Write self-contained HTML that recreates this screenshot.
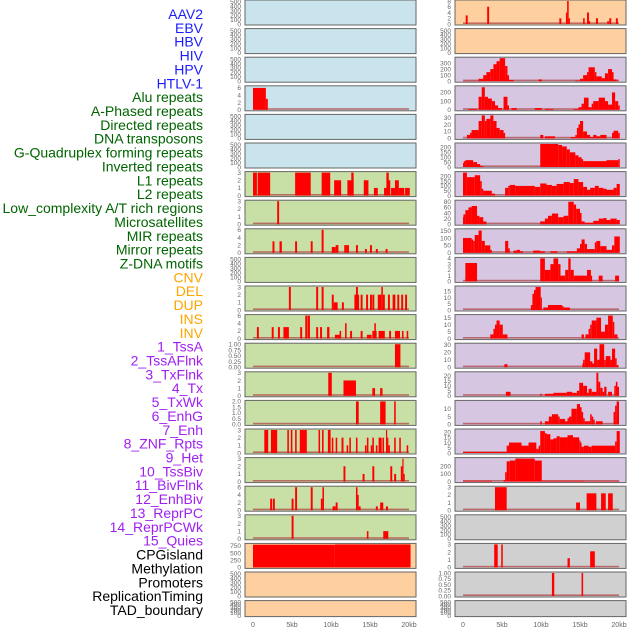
<!DOCTYPE html>
<html><head><meta charset="utf-8"><style>
html,body{margin:0;padding:0;background:#fff;}
svg{display:block;font-family:"Liberation Sans",sans-serif;}
</style></head><body>
<svg id="chart" width="630" height="630" viewBox="0 0 630 630" xmlns="http://www.w3.org/2000/svg"></svg>
<script>
// ---------- data ----------
const trackLabels = ["AAV2","EBV","HBV","HIV","HPV","HTLV-1","Alu repeats","A-Phased repeats","Directed repeats","DNA transposons","G-Quadruplex forming repeats","Inverted repeats","L1 repeats","L2 repeats","Low_complexity A/T rich regions","Microsatellites","MIR repeats","Mirror repeats","Z-DNA motifs","CNV","DEL","DUP","INS","INV","1_TssA","2_TssAFlnk","3_TxFlnk","4_Tx","5_TxWk","6_EnhG","7_Enh","8_ZNF_Rpts","9_Het","10_TssBiv","11_BivFlnk","12_EnhBiv","13_ReprPC","14_ReprPCWk","15_Quies","CPGisland","Methylation","Promoters","ReplicationTiming","TAD_boundary"];
const labelColors = ["#1c1cff","#1c1cff","#1c1cff","#1c1cff","#1c1cff","#1c1cff","#006400","#006400","#006400","#006400","#006400","#006400","#006400","#006400","#006400","#006400","#006400","#006400","#006400","#ffa500","#ffa500","#ffa500","#ffa500","#ffa500","#a020f0","#a020f0","#a020f0","#a020f0","#a020f0","#a020f0","#a020f0","#a020f0","#a020f0","#a020f0","#a020f0","#a020f0","#a020f0","#a020f0","#a020f0","#000","#000","#000","#000","#000"];
const xTickKb = [0,5,10,15,20];
const xTickLabels = ["0","5kb","10kb","15kb","20kb"];
const emptyTicks = ["0","100","200","300","400","500"];

// left column segments [startKb, endKb, value]
const L03 = [[0,1.65,6],[1.65,1.9,3]];
const L06 = [[0,0.5,3],[0.6,2.2,3],[5.4,7.4,3],[8.8,9.9,3],[10.4,11.3,2],[12.1,12.9,2],[12.6,12.9,3],[14.2,14.8,2],[15.5,16.0,1],[16.8,17.2,1],[17.1,17.4,3],[17.3,17.6,2],[17.7,18.2,1],[18.2,18.7,2],[18.7,19.4,1],[19.5,20.1,1]];
const L07 = [[3.1,3.35,3]];
const L08 = [[2.5,2.75,3],[3.4,3.7,3],[5.4,5.65,3],[7.4,7.65,3],[8.8,9.05,6],[10.1,10.6,1.5],[10.6,10.95,2],[11.7,12.0,2],[12.0,12.3,2],[13.2,13.45,2],[14.35,14.6,1],[15.0,15.25,2],[15.75,16.0,1],[17.0,17.25,1]];
const L10 = [[4.6,4.85,3],[8.1,8.35,3],[8.8,9.05,3],[10.1,10.35,2],[10.35,10.85,1],[11.4,11.65,1],[13.0,13.6,2],[13.2,13.45,3],[13.8,14.05,2],[14.5,14.75,2],[15.0,15.25,2],[15.3,15.55,2],[16.0,16.25,2],[16.2,16.45,2],[16.45,16.65,3],[16.65,16.9,2],[17.3,17.55,2],[17.9,18.25,2],[18.5,18.75,2],[19.0,19.25,2],[19.5,19.75,2]];
const L11 = [[0.5,0.75,3],[2.4,2.65,3],[3.2,3.45,3],[3.9,4.6,3],[6.05,6.3,3],[6.7,7.0,6],[7.05,7.3,6],[8.1,8.35,3],[8.6,8.85,3],[9.5,9.8,3],[10.5,11.15,1],[11.1,11.3,2],[11.8,12.0,4],[12.45,12.7,2],[13.8,14.05,2],[14.6,15.2,1],[15.3,15.85,2],[15.55,15.75,4],[16.1,16.9,2],[17.45,17.7,2],[18.2,18.85,2],[19.1,19.3,2],[19.7,19.9,2]];
const L12 = [[18.2,18.9,1]];
const L13 = [[9.65,10.1,3],[11.6,13.2,2],[15.3,15.65,1],[16.3,16.6,1]];
const L14 = [[13.2,13.55,2],[16.3,17.0,2],[18.1,18.3,2]];
const L15 = [[1.45,1.95,3],[2.3,3.1,3],[4.4,4.6,3],[4.85,5.05,3],[5.4,5.6,3],[6.0,6.9,3],[8.4,8.6,3],[8.85,9.05,3],[9.6,9.95,3],[10.1,10.3,2],[10.6,10.8,2],[11.35,11.6,2],[12.0,12.2,1],[12.35,12.55,2],[13.2,13.4,2],[14.35,14.55,1],[14.6,14.8,2],[15.1,15.3,1],[15.3,15.5,2],[15.75,15.95,1],[16.1,16.5,2],[16.6,16.8,2],[17.05,17.2,3],[17.2,17.35,2],[17.35,17.55,1],[18.1,18.3,2],[18.75,18.95,2],[19.7,19.9,1]];
const L16 = [[11.6,11.85,2],[14.05,14.3,1],[15.3,15.55,2],[17.6,17.85,2],[18.1,18.35,1],[18.95,19.15,2],[19.15,19.3,3],[19.3,19.45,1]];
const L17 = [[2.2,2.45,3],[2.55,2.8,3],[4.95,5.2,3],[5.4,5.65,6],[7.4,7.65,6],[8.7,8.9,3],[8.9,9.1,6],[10.2,10.6,1],[10.6,10.85,2],[13.2,13.4,6],[13.4,13.55,4],[13.55,13.8,1],[15.75,16.0,1],[16.3,16.7,2],[17.05,17.3,1]];
const L18 = [[4.95,5.2,3],[14.6,14.8,1],[16.7,17.35,1]];
const L19 = [[0,10.5,790],[10.5,20.2,800]];

// right column segments
const R00 = [[0.35,0.6,3],[3.1,3.35,6],[12.35,12.6,2],[13.2,13.35,4],[13.35,13.55,8],[13.55,13.7,2],[15.4,15.6,2],[15.9,16.15,4],[16.15,16.3,1],[17.05,17.3,2],[18.5,18.7,1],[18.75,19.0,2],[19.6,19.85,2]];
const R02 = [[0,2.0,5],[2.0,2.6,40],[2.6,3.0,100],[3.0,3.5,150],[3.5,3.9,200],[3.9,4.3,280],[4.3,4.7,330],[4.7,5.4,380],[5.4,5.7,250],[5.7,5.9,100],[5.9,6.5,20],[9.7,10.1,30],[14.4,15.0,10],[15.0,15.4,40],[15.4,15.9,100],[15.9,16.1,150],[16.1,16.9,230],[16.9,17.1,150],[17.1,17.8,80],[17.8,18.2,50],[18.2,18.6,130],[18.6,19.1,200],[19.1,19.3,150],[19.3,19.7,30],[19.7,19.9,10]];
const R03 = [[0.7,1.8,10],[2.0,2.4,150],[2.4,2.8,260],[2.8,3.2,150],[3.2,3.7,130],[3.7,4.1,100],[4.1,4.5,50],[4.5,5.0,20],[5.2,5.7,150],[5.7,5.9,50],[6.2,6.9,20],[9.2,10.1,20],[10.5,11.6,10],[14.2,14.8,10],[14.8,15.2,30],[15.2,15.5,70],[15.5,16.1,140],[16.1,16.5,30],[16.5,16.7,70],[16.7,17.4,100],[17.4,18.2,140],[18.2,18.6,100],[18.6,19.1,60],[19.1,19.5,200],[19.5,19.9,100],[19.9,20.1,50]];
const R04 = [[0.5,0.9,5],[0.9,1.1,8],[1.1,2.0,12],[2.0,2.4,25],[2.4,2.8,33],[2.8,3.0,25],[3.0,3.5,28],[3.5,3.9,33],[3.9,4.3,25],[4.3,4.7,15],[4.7,5.2,12],[5.2,5.4,8],[9.9,10.3,5],[10.5,11.8,3],[13.8,14.4,2],[14.4,14.6,5],[14.6,14.8,15],[14.8,15.0,20],[15.0,15.4,25],[15.4,15.9,10],[15.9,16.3,5],[16.3,16.7,2],[16.7,17.1,5],[17.1,17.6,3],[17.6,18.4,5],[19.1,19.3,8],[19.3,19.9,11],[19.9,20.1,8]];
const R05 = [[0,0.1,40],[0.1,0.3,60],[0.3,1.3,70],[1.3,1.8,50],[1.8,2.2,30],[2.2,2.6,10],[9.9,12.2,235],[12.2,12.7,225],[12.7,13.3,210],[13.3,13.7,180],[13.7,14.4,150],[14.4,14.8,120],[14.8,15.2,100],[15.2,15.4,80],[15.4,18.4,60],[18.4,19.9,70],[19.9,20.1,80]];
const R06 = [[0,0.5,237],[0.5,1.5,190],[1.5,2.2,210],[2.2,2.4,150],[2.4,2.6,70],[2.6,3.7,50],[3.7,4.1,20],[5.4,5.8,80],[5.8,6.0,100],[6.0,6.7,110],[6.7,9.2,100],[9.2,9.9,90],[9.9,10.7,125],[10.7,11.4,110],[11.4,12.0,100],[12.0,12.9,120],[12.9,13.7,140],[13.7,14.2,130],[14.2,14.8,170],[14.8,15.4,140],[15.4,15.9,90],[15.9,16.3,60],[16.3,16.9,80],[16.9,17.4,100],[17.4,18.0,80],[18.0,18.4,70],[18.4,19.3,60],[19.3,19.7,80],[19.7,20.1,120]];
const R07 = [[0,0.05,25],[0.05,0.3,35],[0.3,0.7,50],[0.7,1.1,60],[1.1,1.8,65],[1.8,2.1,30],[2.1,2.6,25],[2.6,3.0,10],[9.9,10.5,10],[10.5,10.9,20],[10.9,11.4,30],[11.4,12.2,38],[12.2,12.9,25],[12.9,13.5,30],[13.5,14.2,80],[14.2,14.5,70],[14.5,15.0,55],[15.0,15.2,40],[15.2,15.6,10],[15.6,16.7,5],[16.7,17.4,12],[17.4,18.0,20],[18.0,18.4,22],[18.4,18.9,15],[18.9,19.7,20],[19.7,20.1,15]];
const R08 = [[0,1.1,100],[1.1,1.3,90],[1.3,1.5,80],[1.5,2.0,120],[2.0,2.4,150],[2.4,2.8,80],[2.8,3.5,50],[3.5,3.7,20],[5.4,5.8,80],[5.8,6.0,30],[6.5,6.9,15],[6.9,7.3,20],[7.3,7.7,10],[9.0,9.9,15],[9.9,10.5,10],[11.2,12.1,10],[13.3,14.6,10],[14.6,15.0,30],[15.0,15.2,60],[15.2,15.6,90],[15.6,15.9,60],[15.9,16.9,25],[16.9,17.1,70],[17.1,17.6,80],[17.6,18.4,45],[18.4,19.1,20],[19.1,19.4,50],[19.4,20.1,110]];
const R09 = [[0.3,1.8,3.2],[9.9,10.5,4],[10.5,11.2,2],[11.2,11.6,3],[11.6,12.2,4],[12.2,12.5,3],[12.5,13.1,1],[13.1,13.5,2],[13.5,13.8,4],[13.8,14.2,2],[14.2,15.9,1],[15.9,16.4,2],[16.4,16.5,1],[17.4,17.9,1],[19.5,20.0,1]];
const R10 = [[8.7,8.9,4],[8.9,9.1,13],[9.1,9.3,16],[9.3,9.96,18.4],[9.96,10.1,10],[10.3,10.9,2],[10.9,12.7,4],[12.7,12.9,3],[12.9,13.7,2]];
const R11 = [[3.5,3.9,3],[3.9,4.1,7],[4.1,4.3,10],[4.3,4.7,13],[4.7,5.1,10],[5.1,5.7,3],[15.2,15.5,3],[15.7,16.1,3],[16.1,16.3,7],[16.3,16.5,10],[16.5,17.1,13],[17.1,17.7,15],[17.7,18.2,5],[18.2,18.6,10],[18.6,19.2,16.5],[19.2,19.4,12],[19.4,19.8,3]];
const R12 = [[5.3,5.7,4],[15.3,15.4,5],[15.4,15.6,10],[15.6,16.3,20],[16.3,16.6,8],[16.6,16.8,5],[16.8,17.2,25],[17.2,17.5,10],[17.5,18.1,31],[18.1,18.3,10],[18.3,18.9,15],[18.9,19.1,10],[19.1,19.5,25],[19.5,19.7,12],[19.7,19.9,3]];
const R13 = [[5.5,6.1,4],[9.9,10.1,2],[10.5,11.6,2],[11.6,13.3,3],[13.3,14.0,4],[14.0,14.6,3],[14.6,14.9,5],[14.9,15.4,13],[15.4,15.9,10],[15.9,16.1,3],[16.1,16.5,7],[16.5,17.1,4],[17.1,17.35,23],[17.35,17.6,14],[17.6,17.9,8],[17.9,18.1,4],[18.1,18.4,9],[18.6,19.1,4],[19.4,19.6,10],[19.6,19.8,14],[19.8,20.0,9]];
const R14 = [[9.9,10.1,2],[10.5,11.0,2],[11.0,11.4,5],[11.4,12.2,6.5],[12.2,12.4,5],[12.4,13.1,3.5],[13.1,13.4,2],[13.4,13.6,4],[13.6,13.9,5],[13.9,14.6,10],[14.6,15.0,13],[15.0,15.2,11],[15.2,15.4,8],[15.4,15.6,4],[15.6,16.3,2],[16.3,16.5,6.5],[16.5,16.7,5],[16.7,16.9,3],[17.05,17.9,2],[19.3,19.5,8],[19.5,19.7,12],[19.7,20.0,14.7]];
const R15 = [[0,5.6,1],[5.6,5.9,7],[5.9,7.5,10],[7.5,8.4,7],[8.4,9.4,10],[9.4,9.7,4],[9.7,9.9,7],[9.9,10.5,21],[10.5,10.7,19],[10.7,11.2,18],[11.2,11.6,13],[11.6,12.0,14],[12.0,12.4,16],[12.4,13.4,15],[13.4,14.1,17],[14.1,14.9,15],[14.9,15.0,12],[15.0,15.2,10],[15.2,15.5,6],[15.5,16.1,7],[16.1,16.5,6],[16.5,19.5,7],[19.5,19.7,11],[19.7,20.1,21]];
const R16 = [[0,3.7,10],[5.2,5.4,20],[5.4,5.6,120],[5.6,6.0,260],[6.0,6.7,270],[6.7,9.2,295],[9.2,10.1,270],[10.1,15.6,10],[15.6,20.1,5]];
const R17 = [[4.1,5.6,3],[14.5,15.0,1],[15.85,17.1,2.2],[17.7,18.3,2.2],[18.6,19.2,2.2]];
const R19 = [[4.0,4.45,3],[4.9,5.1,3],[13.4,13.7,1.2],[16.3,16.9,2.1]];
const R20 = [[11.4,11.7,1],[15.2,15.4,1]];

const leftSeries = [[],[],[],L03,[],[],L06,L07,L08,[],L10,L11,L12,L13,L14,L15,L16,L17,L18,L19,[],[]];
const rightSeries = [R00,[],R02,R03,R04,R05,R06,R07,R08,R09,R10,R11,R12,R13,R14,R15,R16,R17,[],R19,R20,[]];
const leftMax = [520,520,520,6.3,520,520,3,3,6,520,3,6,1,3,2,3,3,6,3,800,520,520];
const rightMax = [8,520,380,265,33,235,237,82,155,4,18.4,16.5,31,23,14.7,22,295,3,520,3,1,520];
const leftTicks = [emptyTicks,emptyTicks,emptyTicks,["0","2","4","6"],emptyTicks,emptyTicks,["0","1","2","3"],["0","1","2","3"],["0","2","4","6"],emptyTicks,["0","1","2","3"],["0","2","4","6"],["0.00","0.25","0.50","0.75","1.00"],["0","1","2","3"],["0.0","0.5","1.0","1.5","2.0"],["0","1","2","3"],["0","1","2","3"],["0","2","4","6"],["0","1","2","3"],["0","250","500","750"],emptyTicks,emptyTicks];
const rightTicks = [["0","2","4","6","8"],emptyTicks,["0","100","200","300"],["0","100","200"],["0","10","20","30"],["0","50","100","150","200"],["0","50","100","150","200"],["0","20","40","60","80"],["0","50","100","150"],["0","1","2","3","4"],["0","5","10","15"],["0","5","10","15"],["0","10","20","30"],["0","5","10","15","20"],["0","5","10"],["0","5","10","15","20"],["0","100","200"],["0","1","2","3"],emptyTicks,["0","1","2","3"],["0.00","0.25","0.50","0.75","1.00"],emptyTicks];
const leftBg = ["#c9e4ec","#c9e4ec","#c9e4ec","#c9e4ec","#c9e4ec","#c9e4ec","#c8e0a6","#c8e0a6","#c8e0a6","#c8e0a6","#c8e0a6","#c8e0a6","#c8e0a6","#c8e0a6","#c8e0a6","#c8e0a6","#c8e0a6","#c8e0a6","#c8e0a6","#fed0a0","#fed0a0","#fed0a0"];
const rightBg = ["#fed0a0","#fed0a0","#d6c6e2","#d6c6e2","#d6c6e2","#d6c6e2","#d6c6e2","#d6c6e2","#d6c6e2","#d6c6e2","#d6c6e2","#d6c6e2","#d6c6e2","#d6c6e2","#d6c6e2","#d6c6e2","#d6c6e2","#d0d0d0","#d0d0d0","#d0d0d0","#d0d0d0","#d0d0d0"];

// ---------- drawing ----------
const NS = "http://www.w3.org/2000/svg";
const svg = document.getElementById("chart");
function mk(tag, attrs, parent) {
  const e = document.createElementNS(NS, tag);
  for (const k in attrs) e.setAttribute(k, attrs[k]);
  (parent || svg).appendChild(e);
  return e;
}
const ROW_PITCH = 28.6, PANEL_H = 25, PANEL_W = 171, KB = 7.8;
const cols = [{x:245, zero:253, series:leftSeries, max:leftMax, ticks:leftTicks, bg:leftBg, side:"left"},
              {x:455, zero:463, series:rightSeries, max:rightMax, ticks:rightTicks, bg:rightBg, side:"right"}];
function xScale(col, kb) { return col.zero + kb * KB; }

// labels
trackLabels.forEach((lab, i) => {
  const t = mk("text", {x:203, y:(14 + 13.86*i + 5).toFixed(1), "text-anchor":"end", "font-size":"14", fill:labelColors[i]});
  t.textContent = lab;
  
  
});

cols.forEach(col => {
  for (let r = 0; r < 22; r++) {
    const top = r * ROW_PITCH;
    const h = r === 21 ? 16 : PANEL_H;
    const g = mk("g", {});
    
    
    mk("rect", {x:col.x, y:top.toFixed(1), width:PANEL_W, height:h, fill:col.bg[r], stroke:"#666", "stroke-width":"1"}, g);
    const max = col.max[r];
    const y0 = top + h - 1, span = h - 2;
    const yScale = v => y0 - v / max * span;
    // ticks
    const tks = col.ticks[r];
    tks.forEach(lbl => {
      const v = parseFloat(lbl);
      const tt = mk("text", {x:col.x - 4, y:(yScale(v) + 2.3).toFixed(1), "text-anchor":"end", "font-size":"6.5", fill:"#666"}, g);
      tt.textContent = lbl;
      
      
    });
    const segs = col.series[r];
    if (segs.length) {
      const bl = mk("rect", {x:xScale(col,0), y:(y0-1.6).toFixed(1), width:(20*KB), height:1.6, fill:"#b04848", opacity:"0.75"}, g);
      
      
      segs.forEach(s => {
        const x1 = Math.max(xScale(col, s[0]), col.x + 1);
        const x2 = Math.min(xScale(col, s[1]), col.x + PANEL_W - 1);
        const yt = yScale(Math.min(s[2], max));
        const b = mk("rect", {x:x1.toFixed(2), y:yt.toFixed(2), width:Math.max(1.2, x2 - x1).toFixed(2), height:(y0 - yt).toFixed(2), fill:"#ff0000"}, g);
        
        
      });
    }
  }
  xTickKb.forEach((kb, i) => {
    const t = mk("text", {x:xScale(col, kb), y:627, "text-anchor":"middle", "font-size":"7", fill:"#666"});
    t.textContent = xTickLabels[i];
    
    
  });
});
</script>
</body></html>
